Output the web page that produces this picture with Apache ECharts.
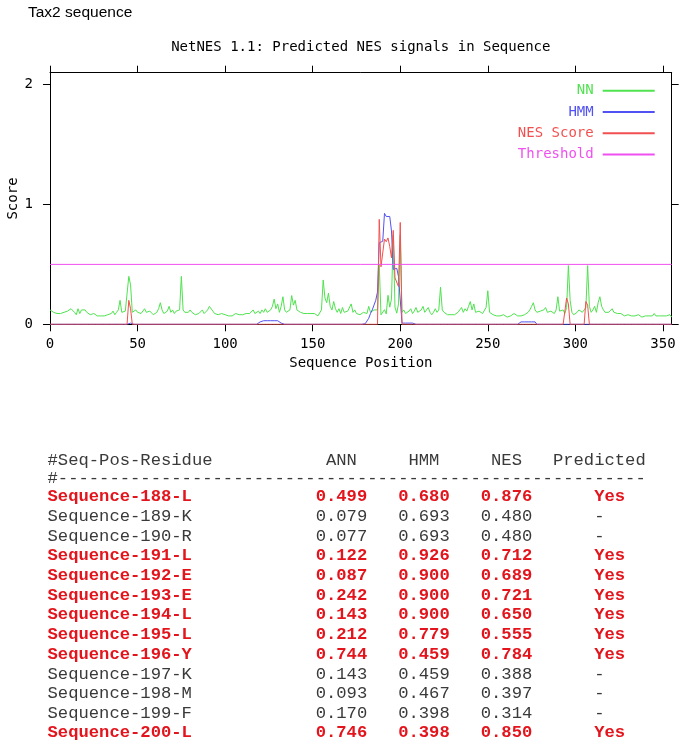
<!DOCTYPE html>
<html><head><meta charset="utf-8">
<script src="https://cdn.jsdelivr.net/npm/echarts@6/dist/echarts.min.js"></script>
<style>html,body{margin:0;padding:0;background:#fff}#c{width:685px;height:748px}</style>
</head><body><div id="c"></div>
<script>
// ---------- chart data ----------
const seqLength = 355;
const threshold = 0.5;
const xTicks = [0, 50, 100, 150, 200, 250, 300, 350];
const yTicks = [0, 1, 2];
// NN score per sequence position 0..355
const nnScores = [
0.12,0.11,0.10,0.09,0.09,0.08,0.09,0.09,0.10,0.10, 0.11,0.12,0.13,0.12,0.10,0.08,0.13,0.09,0.12,0.11,
0.12,0.10,0.09,0.08,0.07,0.09,0.08,0.07,0.07,0.07, 0.07,0.07,0.08,0.08,0.09,0.09,0.11,0.08,0.10,0.12,
0.20,0.10,0.09,0.11,0.12,0.40,0.33,0.10,0.11,0.12, 0.10,0.11,0.09,0.10,0.13,0.10,0.09,0.11,0.10,0.08,
0.09,0.10,0.13,0.18,0.12,0.09,0.10,0.11,0.15,0.10, 0.12,0.09,0.11,0.10,0.12,0.40,0.12,0.10,0.09,0.10,
0.12,0.10,0.09,0.08,0.08,0.09,0.10,0.12,0.09,0.10, 0.12,0.15,0.16,0.11,0.09,0.09,0.08,0.08,0.09,0.08,
0.08,0.07,0.07,0.08,0.07,0.08,0.09,0.08,0.08,0.07, 0.08,0.08,0.09,0.08,0.09,0.10,0.12,0.09,0.10,0.11,
0.09,0.12,0.10,0.13,0.10,0.11,0.12,0.15,0.21,0.13, 0.17,0.10,0.15,0.23,0.12,0.10,0.09,0.12,0.24,0.16,
0.20,0.12,0.13,0.10,0.11,0.09,0.10,0.09,0.08,0.09, 0.10,0.09,0.08,0.07,0.08,0.12,0.37,0.22,0.18,0.26,
0.15,0.12,0.19,0.13,0.10,0.13,0.09,0.14,0.10,0.09, 0.11,0.12,0.17,0.10,0.12,0.09,0.10,0.08,0.09,0.10,
0.11,0.09,0.15,0.10,0.09,0.12,0.11,0.12,0.499,0.079, 0.077,0.122,0.087,0.242,0.143,0.212,0.744,0.143,0.093,0.170,
0.746,0.10,0.12,0.09,0.10,0.11,0.13,0.09,0.11,0.14, 0.10,0.09,0.12,0.15,0.10,0.09,0.14,0.10,0.08,0.10,
0.13,0.10,0.12,0.31,0.12,0.10,0.09,0.08,0.09,0.08, 0.09,0.08,0.09,0.10,0.11,0.14,0.10,0.13,0.11,0.15,
0.19,0.12,0.17,0.10,0.09,0.11,0.10,0.09,0.10,0.14, 0.28,0.10,0.09,0.08,0.08,0.07,0.08,0.07,0.07,0.08,
0.07,0.06,0.07,0.07,0.08,0.09,0.08,0.07,0.08,0.07, 0.07,0.08,0.09,0.10,0.12,0.15,0.18,0.12,0.10,0.09,
0.11,0.10,0.12,0.14,0.10,0.09,0.11,0.10,0.09,0.12, 0.23,0.11,0.10,0.12,0.09,0.14,0.49,0.20,0.10,0.08,
0.09,0.10,0.12,0.11,0.10,0.11,0.14,0.49,0.15,0.10, 0.12,0.15,0.10,0.18,0.23,0.15,0.12,0.10,0.09,0.10,
0.09,0.13,0.10,0.11,0.09,0.08,0.09,0.08,0.07,0.07, 0.08,0.07,0.07,0.06,0.07,0.07,0.08,0.07,0.06,0.07,
0.07,0.08,0.07,0.07,0.07,0.09,0.07,0.06,0.07,0.08, 0.07,0.08,0.07,0.07,0.08,0.06
];
// HMM score: positions where non-zero, and their values
const hmmPositions = [45,46, 120,121,122,123,124,125,126,127,128,129,130,131,132,
  180,181,182,183,184,185,186,187,188,189,190,191,192,193,194,195,196,197,198,199,200,
  201,202,203,204,205,206,207, 269,270,271,272,273,274,275,276,277];
const hmmValues = [0.01,0.01, 0.02,0.03,0.03,0.03,0.03,0.03,0.03,0.03,0.03,0.03,0.03,0.03,0.01,
  0.005,0.01,0.05,0.09,0.12,0.16,0.20,0.27,0.680,0.693,0.693,0.926,0.900,0.900,0.900,0.779,0.459,0.459,0.467,0.398,0.398,
  0.01,0.01,0.01,0.01,0.01,0.01,0.01, 0.02,0.02,0.02,0.02,0.02,0.02,0.02,0.02,0.02];
// NES score: positions where non-zero, and their values
const nesPositions = [45,46, 188,189,190,191,192,193,194,195,196,197,198,199,200, 295,296, 306,307];
const nesValues = [0.20,0.13, 0.876,0.480,0.480,0.712,0.689,0.721,0.650,0.555,0.784,0.388,0.397,0.314,0.850, 0.22,0.17, 0.19,0.16];

// ---------- table data ----------
const tableResidues = ['Sequence-188-L','Sequence-189-K','Sequence-190-R','Sequence-191-L','Sequence-192-E','Sequence-193-E','Sequence-194-L','Sequence-195-L','Sequence-196-Y','Sequence-197-K','Sequence-198-M','Sequence-199-F','Sequence-200-L'];
const tableANN = ['0.499','0.079','0.077','0.122','0.087','0.242','0.143','0.212','0.744','0.143','0.093','0.170','0.746'];
const tableHMM = ['0.680','0.693','0.693','0.926','0.900','0.900','0.900','0.779','0.459','0.459','0.467','0.398','0.398'];
const tableNES = ['0.876','0.480','0.480','0.712','0.689','0.721','0.650','0.555','0.784','0.388','0.397','0.314','0.850'];
const tablePredicted = ['Yes','-','-','Yes','Yes','Yes','Yes','Yes','Yes','-','-','-','Yes'];

// ---------- build ----------
const mono = 'DejaVu Sans Mono';
const tmono = 'Liberation Mono';
const C = {nn:'#4fe34f', hmm:'#5252f2', nes:'#f25050', thr:'#f050f0'};

function sparse(pos, vals) {
  const m = {}; pos.forEach((p, i) => m[p] = vals[i]);
  const out = [];
  for (let i = 0; i <= seqLength; i++) out.push([i, m[i] !== undefined ? m[i] : 0]);
  return out;
}
const nnData = nnScores.map((v, i) => [i, v]);
const hmmData = sparse(hmmPositions, hmmValues);
const nesData = sparse(nesPositions, nesValues);
const thrData = [[0, threshold], [seqLength, threshold]];

const chart = echarts.init(document.getElementById('c'), null, {renderer: 'canvas'});
const axisFont = {fontFamily: mono, fontSize: 14, color: '#000'};

// table text rows (monospace grid)
function row(a, b, c, d, e, cols) {
  return a.padEnd(cols[0]) + b.padEnd(cols[1] - cols[0]) + c.padEnd(cols[2] - cols[1]) + d.padEnd(cols[3] - cols[2]) + e;
}
const tableEls = [];
const tx = 47.5, rowY0 = 497, rowStep = 19.67;
tableEls.push({type: 'text', x: tx, y: 460, style: {text: row('#Seq-Pos-Residue', 'ANN', 'HMM', 'NES', 'Predicted', [27, 35, 43, 49]), font: '17.2px "' + tmono + '"', fill: '#3a3a3a', verticalAlign: 'middle'}});
tableEls.push({type: 'text', x: tx, y: 478, style: {text: '#' + '-'.repeat(57), font: '17.2px "' + tmono + '"', fill: '#3a3a3a', verticalAlign: 'middle'}});
tableResidues.forEach((r, i) => {
  const yes = tablePredicted[i] === 'Yes';
  tableEls.push({type: 'text', x: tx, y: rowY0 + i * rowStep, style: {
    text: row(r, tableANN[i], tableHMM[i], tableNES[i], tablePredicted[i], [26, 34, 42, 53]),
    font: (yes ? 'bold ' : '') + '17.2px "' + tmono + '"', fill: yes ? '#e3141c' : '#3a3a3a', verticalAlign: 'middle'}});
});

const option = {
  animation: false,
  backgroundColor: '#fff',
  grid: {left: 50, right: 13.3, top: 72.7, bottom: 423.7, containLabel: false, outerBoundsMode: 'none'},
  legend: {
    orient: 'vertical', right: 29.3, top: 83.8, align: 'right', padding: 0,
    itemWidth: 52, itemHeight: 14, itemGap: 7.2,
    itemStyle: {opacity: 0},
    textStyle: {fontFamily: mono, fontSize: 14, padding: [0, 4, 0, 0]},
    data: [
      {name: 'NN', textStyle: {color: C.nn}},
      {name: 'HMM', textStyle: {color: C.hmm}},
      {name: 'NES Score', textStyle: {color: C.nes}},
      {name: 'Threshold', textStyle: {color: C.thr}}
    ]
  },
  xAxis: [{
    type: 'value', min: 0, max: seqLength, interval: 50, position: 'bottom',
    name: 'Sequence Position', nameLocation: 'middle', nameGap: 32, nameMoveOverlap: false, nameTextStyle: axisFont,
    axisLine: {onZero: false, lineStyle: {color: '#000', width: 1}},
    axisTick: {customValues: xTicks, length: 7, lineStyle: {color: '#000'}},
    axisLabel: Object.assign({customValues: xTicks, margin: 13}, axisFont),
    splitLine: {show: false}
  }, {
    type: 'value', min: 0, max: seqLength, interval: 50, position: 'top',
    axisLine: {onZero: false, lineStyle: {color: '#000', width: 1}},
    axisTick: {customValues: xTicks, length: 7, lineStyle: {color: '#000'}},
    axisLabel: {show: false}, splitLine: {show: false}
  }],
  yAxis: [{
    type: 'value', min: 0, max: 2.1, interval: 1, position: 'left',
    name: 'Score', nameLocation: 'middle', nameGap: 30, nameMoveOverlap: false, nameTextStyle: axisFont,
    axisLine: {show: true, onZero: false, lineStyle: {color: '#000', width: 1}},
    axisTick: {show: true, customValues: yTicks, length: 7, lineStyle: {color: '#000'}},
    axisLabel: Object.assign({customValues: yTicks, margin: 17}, axisFont),
    splitLine: {show: false}
  }, {
    type: 'value', min: 0, max: 2.1, interval: 1, position: 'right',
    axisLine: {show: true, onZero: false, lineStyle: {color: '#000', width: 1}},
    axisTick: {show: true, customValues: yTicks, length: 7, lineStyle: {color: '#000'}},
    axisLabel: {show: false}, splitLine: {show: false}
  }],
  series: [
    {name: 'NN', type: 'line', data: nnData, symbol: 'none', color: C.nn, lineStyle: {width: 1, color: C.nn}, z: 2},
    {name: 'HMM', type: 'line', data: hmmData, symbol: 'none', color: C.hmm, lineStyle: {width: 1, color: C.hmm}, z: 3},
    {name: 'NES Score', type: 'line', data: nesData, symbol: 'none', color: C.nes, lineStyle: {width: 1, color: C.nes}, z: 4},
    {name: 'Threshold', type: 'line', data: thrData, symbol: 'none', color: C.thr, lineStyle: {width: 1, color: C.thr}, z: 5}
  ],
  graphic: [
    {type: 'text', x: 28, y: 13, style: {text: 'Tax2 sequence', font: '15.5px "Liberation Sans"', fill: '#000', verticalAlign: 'middle'}},
    {type: 'text', x: 360.8, y: 47.5, style: {text: 'NetNES 1.1: Predicted NES signals in Sequence', font: '14px "' + mono + '"', fill: '#000', align: 'center', verticalAlign: 'middle'}}
  ].concat(tableEls)
};
chart.setOption(option);
</script>
</body></html>
